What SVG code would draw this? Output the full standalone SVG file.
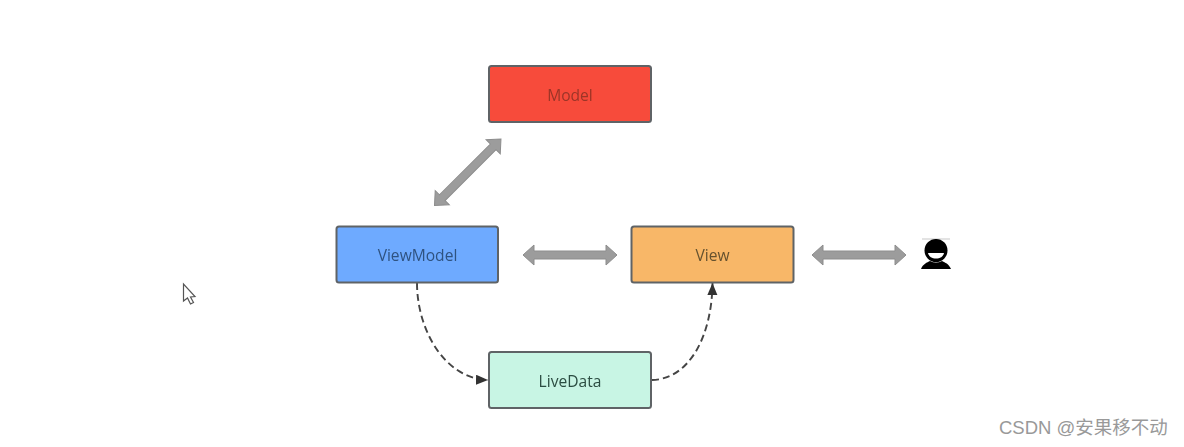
<svg xmlns="http://www.w3.org/2000/svg" width="1184" height="447" viewBox="0 0 1184 447">
  <style>
    .box { stroke: #5f6366; stroke-width: 2; }
    .label { font-family: "Open Sans", "Noto Sans", "Liberation Sans", sans-serif; font-size: 15.6px; text-anchor: middle; }
    .dash { fill: none; stroke: #444444; stroke-width: 1.9; stroke-dasharray: 7 4; }
    .dbl { fill: #9c9c9c; stroke: #8d8d8d; stroke-width: 1; }
    .wm { font-family: "Liberation Sans", "Noto Sans CJK SC", sans-serif; font-size: 18.5px; fill: #999999; }
  </style>
  <defs>
    <filter id="soft" x="-5%" y="-5%" width="110%" height="110%"><feGaussianBlur stdDeviation="0.5"/></filter>
    <polygon id="dblArrow" points="0,0 11,-10 11,-4 83,-4 83,-10 94,0 83,10 83,4 11,4 11,10"/>
    <marker id="tip" markerUnits="userSpaceOnUse" markerWidth="14" markerHeight="12" refX="12" refY="5" orient="auto">
      <path d="M0,0 L12,5 L0,10 Z" fill="#333333"/>
    </marker>
  </defs>
  <rect width="1184" height="447" fill="#ffffff"/>
  <g filter="url(#soft)">
    <g id="connectors">
      <use href="#dblArrow" class="dbl" transform="translate(434.500,205.500) rotate(-45)"/>
      <use href="#dblArrow" class="dbl" transform="translate(523,255)"/>
      <use href="#dblArrow" class="dbl" transform="translate(812,255)"/>
      <path class="dash" d="M417,283 C417,330 445,379 488,380" marker-end="url(#tip)"/>
      <path class="dash" d="M652,380 C690,379 712,335 712.500,283" marker-end="url(#tip)"/>
    </g>
    <g id="model">
      <rect class="box" x="489" y="66" width="162" height="56" rx="2.500" fill="#f74c3b"/>
      <text class="label" x="570" y="101" fill="#9c3428">Model</text>
    </g>
    <g id="viewmodel">
      <rect class="box" x="336.500" y="226.500" width="161.500" height="56" rx="2.500" fill="#6eaaff"/>
      <text class="label" x="417.500" y="261" fill="#2f5280">ViewModel</text>
    </g>
    <g id="view">
      <rect class="box" x="631.500" y="226.500" width="162" height="56" rx="2.500" fill="#f8b767"/>
      <text class="label" x="712.500" y="261" fill="#65512f">View</text>
    </g>
    <g id="livedata">
      <rect class="box" x="489" y="352" width="162" height="56" rx="2.500" fill="#c8f5e4"/>
      <text class="label" x="570" y="387" fill="#2c4d42">LiveData</text>
    </g>
    <g id="user">
      <rect x="922" y="238.500" width="28" height="1" fill="#c8c8c8"/>
      <circle cx="936" cy="250.500" r="11.500" fill="#000000"/>
      <path d="M928,253 H944 C943,257 940,258.500 936,258.500 C932,258.500 929,257 928,253 Z" fill="#ffffff"/>
      <path d="M921,269 C923,264 927,262.500 930,261 C934,263 938,263 942,261 C945,262.500 949,264 951,269 Z" fill="#000000"/>
    </g>
    <g id="cursor">
      <path d="M183.500,284 V301 L187.500,298 L190.500,304 L193.500,302.500 L190.500,297 L195,296.500 Z" fill="#ffffff" stroke="#555555" stroke-width="1.200"/>
    </g>
  </g>
  <text class="wm" x="999" y="434">CSDN @安果移不动</text>
</svg>
